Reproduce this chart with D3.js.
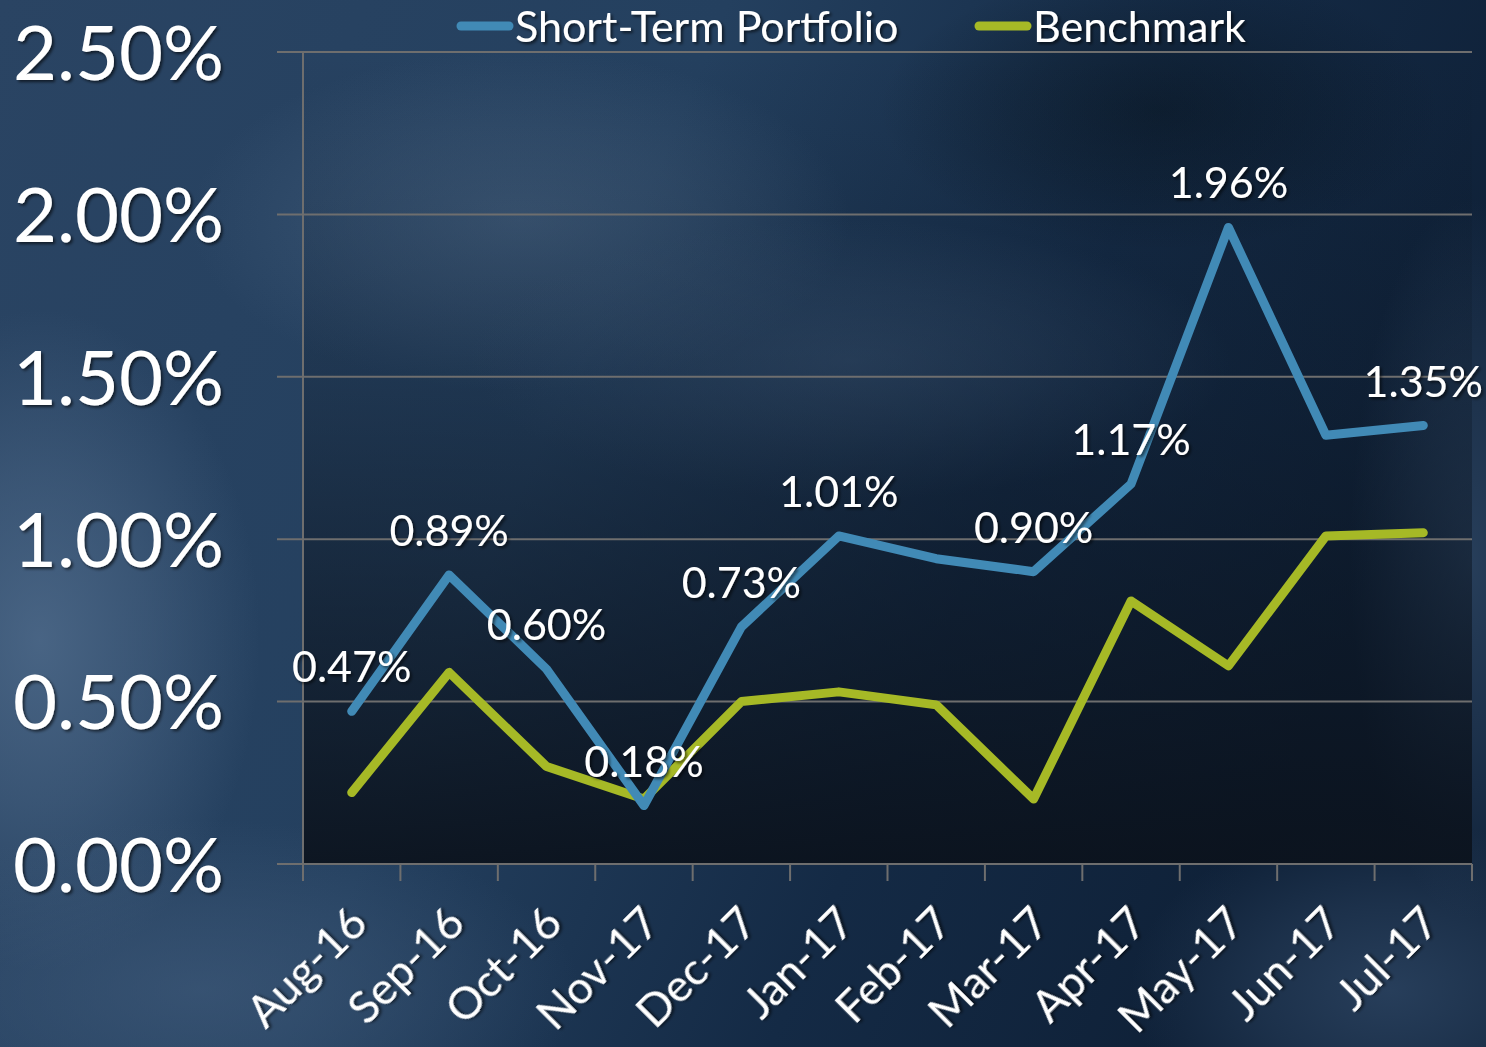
<!DOCTYPE html>
<html><head><meta charset="utf-8">
<script src="https://cdn.jsdelivr.net/npm/d3@7"></script>
<style>html,body{margin:0;padding:0;background:#1d3352;overflow:hidden}</style>
</head><body>
<svg id="c" width="1486" height="1047"></svg>
<script>
const categories = ["Aug-16","Sep-16","Oct-16","Nov-17","Dec-17","Jan-17","Feb-17","Mar-17","Apr-17","May-17","Jun-17","Jul-17"];
const portfolio = [0.47,0.89,0.60,0.18,0.73,1.01,0.94,0.90,1.17,1.96,1.32,1.35];
const benchmark = [0.22,0.59,0.30,0.20,0.50,0.53,0.49,0.20,0.81,0.61,1.01,1.02];
const portfolioLabels = ["0.47%","0.89%","0.60%","0.18%","0.73%","1.01%",null,"0.90%","1.17%","1.96%",null,"1.35%"];
const yTicks = [0,0.5,1.0,1.5,2.0,2.5];
const seriesNames = ["Short-Term Portfolio","Benchmark"];
const seriesColors = ["#418ab6","#a6b926"];

const W=1486,H=1047;
const svg=d3.select("#c");
const defs=svg.append("defs");
const FONT="Lato, 'Open Sans', sans-serif";

// background
const bg=defs.append("linearGradient").attr("id","bg").attr("x1",0).attr("y1",0).attr("x2",1).attr("y2",0.3);
bg.append("stop").attr("offset","0").attr("stop-color","#2a4463");
bg.append("stop").attr("offset","0.45").attr("stop-color","#24405f");
bg.append("stop").attr("offset","0.75").attr("stop-color","#142a45");
bg.append("stop").attr("offset","1").attr("stop-color","#0f2138");
svg.append("rect").attr("width",W).attr("height",H).attr("fill","url(#bg)");
const clouds=[[40,640,220,330,"#4e6a8a",0.85],[520,220,330,170,"#46617f",0.7],[850,360,380,140,"#3d5878",0.55],[200,990,380,170,"#405b7b",0.65],[1390,990,260,170,"#3b5677",0.55],[1160,110,280,140,"#08141f",0.55],[1470,560,120,360,"#3b5676",0.55]];
clouds.forEach((d,i)=>{
  const rg=defs.append("radialGradient").attr("id","cl"+i);
  rg.append("stop").attr("offset","0").attr("stop-color",d[4]).attr("stop-opacity",d[5]);
  rg.append("stop").attr("offset","0.5").attr("stop-color",d[4]).attr("stop-opacity",d[5]*0.55);
  rg.append("stop").attr("offset","1").attr("stop-color",d[4]).attr("stop-opacity",0);
});
svg.append("g").selectAll("ellipse").data(clouds).join("ellipse")
  .attr("cx",d=>d[0]).attr("cy",d=>d[1]).attr("rx",d=>d[2]).attr("ry",d=>d[3]).attr("fill",(d,i)=>`url(#cl${i})`);

const shadow=defs.append("filter").attr("id","ts").attr("x","-20%").attr("y","-20%").attr("width","140%").attr("height","140%");
shadow.append("feDropShadow").attr("dx",2).attr("dy",2).attr("stdDeviation",1.5).attr("flood-color","#000").attr("flood-opacity",0.6);

const x0=303,x1=1472,yTop=52,yBot=864;
const x=d3.scaleBand().domain(categories).range([x0,x1]).padding(0);
const y=d3.scaleLinear().domain([0,2.5]).range([yBot,yTop]);

// plot area dark gradient
const pg=defs.append("linearGradient").attr("id","pg").attr("x1",0).attr("y1",0).attr("x2",0).attr("y2",1);
pg.append("stop").attr("offset","0").attr("stop-color","#0b1522").attr("stop-opacity",0);
pg.append("stop").attr("offset","0.4").attr("stop-color","#0b1522").attr("stop-opacity",0.25);
pg.append("stop").attr("offset","1").attr("stop-color","#0b121c").attr("stop-opacity",0.92);
svg.append("rect").attr("x",x0).attr("y",yTop).attr("width",x1-x0).attr("height",yBot-yTop).attr("fill","url(#pg)");

// gridlines + y axis
const yAxis=d3.axisLeft(y).tickValues(yTicks).tickSize(0).tickFormat(d=>d3.format(".2f")(d)+"%");
const gy=svg.append("g").attr("transform",`translate(${x0},0)`);
gy.selectAll("line.g").data(yTicks).join("line").attr("class","g")
  .attr("x1",277-x0).attr("x2",x1-x0).attr("y1",d=>y(d)).attr("y2",d=>y(d))
  .attr("stroke","#6e6e6e").attr("stroke-width",2);
const yl=svg.append("g").attr("transform",`translate(224,0)`).call(yAxis);
yl.select(".domain").remove();
yl.selectAll("text").attr("x",0).attr("dy","0.36em").attr("fill","#fff").attr("font-family",FONT)
  .attr("font-size",76).attr("filter","url(#ts)").attr("text-anchor","end");

svg.append("line").attr("x1",x0).attr("x2",x0).attr("y1",yTop).attr("y2",yBot).attr("stroke","#6e6e6e").attr("stroke-width",2);

// x axis
const xAxis=d3.axisBottom(x).tickSize(0).tickFormat(d=>d);
const gx=svg.append("g").attr("transform",`translate(0,${yBot})`).call(xAxis);
gx.select(".domain").remove();
const bounds=categories.map(c=>x(c)).concat([x1]);
gx.selectAll("line.t").data(bounds).join("line").attr("class","t")
  .attr("x1",d=>d).attr("x2",d=>d).attr("y1",0).attr("y2",17).attr("stroke","#6e6e6e").attr("stroke-width",2);
gx.append("line").attr("x1",277).attr("x2",x1).attr("y1",0).attr("y2",0).attr("stroke","#6e6e6e").attr("stroke-width",2);
gx.selectAll(".tick text").attr("fill","#fff").attr("font-family",FONT).attr("font-size",45)
  .attr("text-anchor","end").attr("y",0).attr("dy",0)
  .attr("transform","translate(18,62) rotate(-45)").attr("filter","url(#ts)");

// lines
const line=d3.line().x((d,i)=>x(categories[i])+x.bandwidth()/2).y(d=>y(d));
[benchmark,portfolio].forEach((s,k)=>{
  svg.append("path").datum(s).attr("d",line).attr("fill","none")
    .attr("stroke",seriesColors[1-k]).attr("stroke-width",9).attr("stroke-linejoin","round").attr("stroke-linecap","round");
});

// data labels
svg.append("g").selectAll("text").data(portfolio.map((v,i)=>({v,i,l:portfolioLabels[i]})).filter(d=>d.l))
  .join("text").attr("x",d=>x(categories[d.i])+x.bandwidth()/2).attr("y",d=>y(d.v)-29)
  .attr("text-anchor","middle").attr("fill","#fff").attr("font-family",FONT).attr("font-size",43)
  .attr("filter","url(#ts)").text(d=>d.l);

// legend
const leg=[{n:seriesNames[0],c:seriesColors[0],lx:457,tx:515},{n:seriesNames[1],c:seriesColors[1],lx:975,tx:1033}];
const lg=svg.append("g");
leg.forEach(d=>{
  lg.append("line").attr("x1",d.lx+4).attr("x2",d.lx+52).attr("y1",26).attr("y2",26).attr("stroke",d.c).attr("stroke-width",9).attr("stroke-linecap","round");
  lg.append("text").attr("x",d.tx).attr("y",42).attr("fill","#fff").attr("font-family",FONT).attr("font-size",43).attr("filter","url(#ts)").text(d.n);
});
</script>
</body></html>
